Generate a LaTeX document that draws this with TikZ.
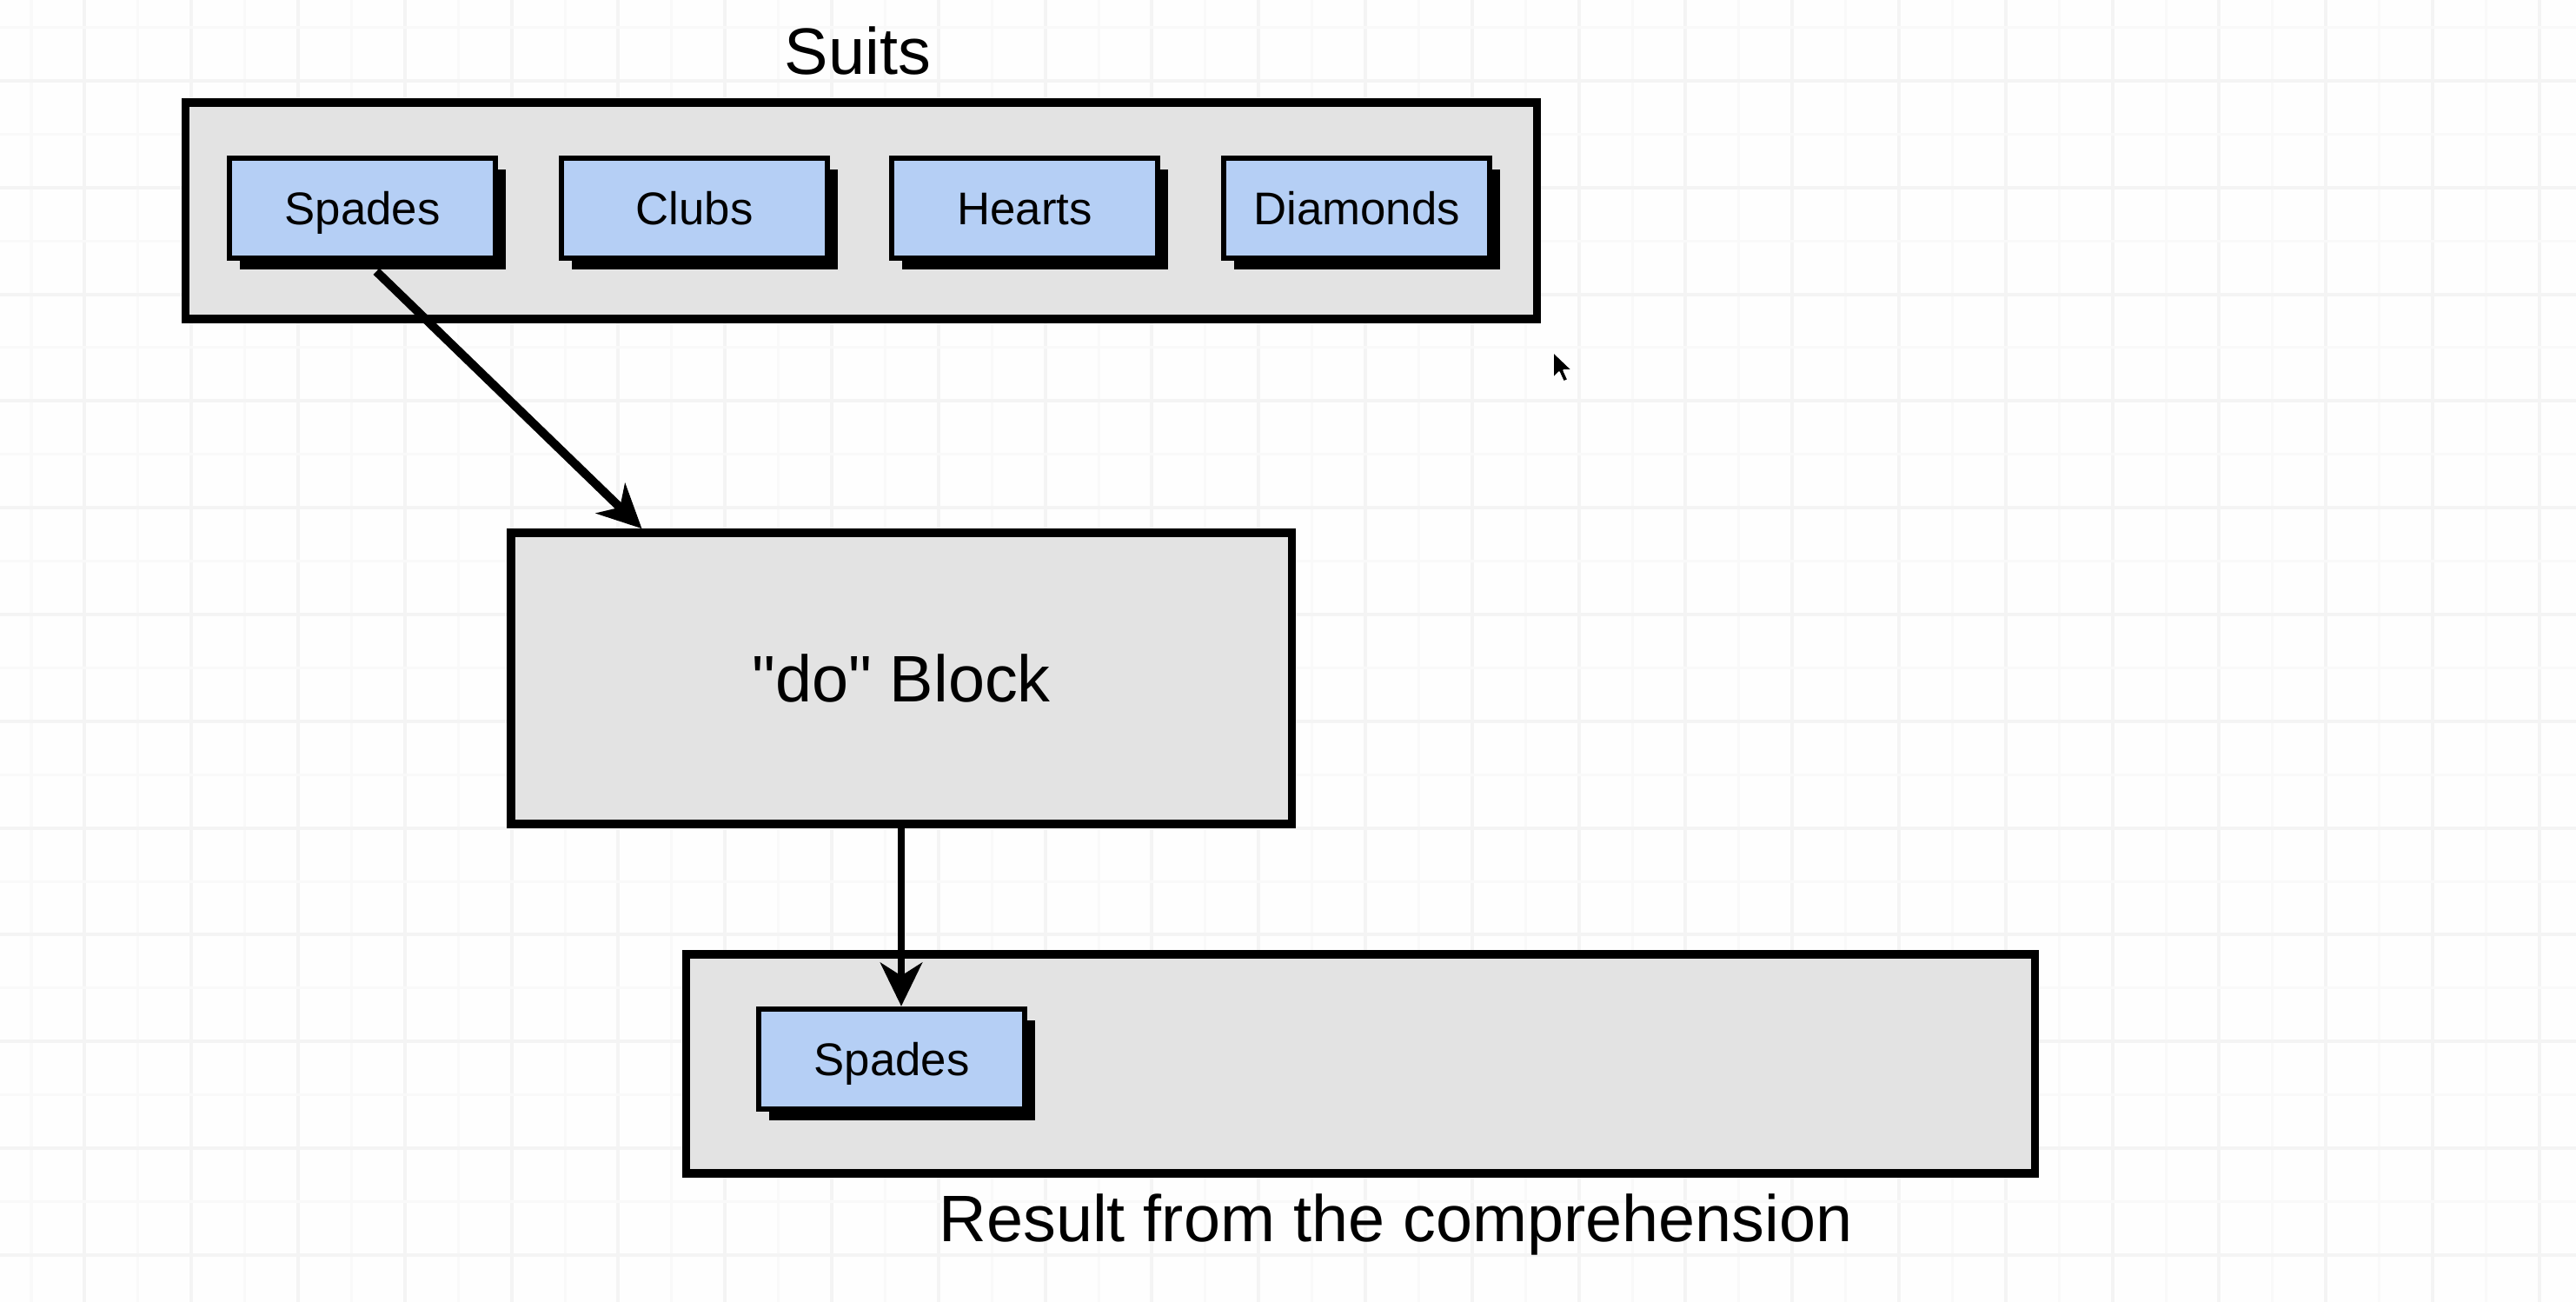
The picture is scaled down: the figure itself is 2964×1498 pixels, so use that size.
\documentclass[tikz,border=0pt]{standalone}
\usepackage{fontspec}
\setmainfont{Liberation Sans}
\newfontfamily\straightquotes{Liberation Sans}[Ligatures=TeXOff]
\usetikzlibrary{arrows.meta,shadows,calc}
\definecolor{bluebox}{RGB}{181,207,245}
\definecolor{graybox}{RGB}{227,227,227}
\definecolor{gridmaj}{RGB}{244,244,244}
\definecolor{gridmin}{RGB}{249,249,249}
\definecolor{bgcol}{RGB}{254,254,254}
\tikzset{
  container/.style={draw=black, line width=0.095cm, fill=graybox, rectangle, inner sep=0pt},
  suit/.style={draw=black, line width=0.065cm, fill=bluebox, rectangle,
    minimum width=3.06cm, minimum height=1.15cm, inner sep=0pt,
    font=\fontsize{15}{18}\selectfont, text height=10.7pt, text depth=0pt,
    drop shadow={shadow xshift=0.12cm, shadow yshift=-0.13cm, fill=black, opacity=1}},
  bigtext/.style={font=\fontsize{21.5}{26}\selectfont, inner sep=0pt},
  conn/.style={line width=0.1cm, -{Stealth[length=0.5cm, width=0.48cm, inset=0.15cm]}},
  gridmajor/.style={draw=gridmaj, line width=0.04cm},
  gridminor/.style={draw=gridmin, line width=0.03cm},
}
\begin{document}
\begin{tikzpicture}[x=0.01cm, y=-0.01cm]
  % background and bounding box
  \fill[bgcol] (0,0) rectangle (2964,1498);
  \useasboundingbox (0,0) rectangle (2964,1498);
  % grid
  \foreach \i in {0,...,47} {
    \pgfmathsetmacro{\gx}{36+61.4*\i}
    \pgfmathtruncatemacro{\odd}{mod(\i,2)}
    \ifnum\odd=1
      \draw[gridmajor] (\gx,0) -- (\gx,1498);
    \else
      \draw[gridminor] (\gx,0) -- (\gx,1498);
    \fi
  }
  \foreach \j in {0,...,23} {
    \pgfmathsetmacro{\gy}{31.6+61.4*\j}
    \pgfmathtruncatemacro{\odd}{mod(\j,2)}
    \ifnum\odd=1
      \draw[gridmajor] (0,\gy) -- (2964,\gy);
    \else
      \draw[gridminor] (0,\gy) -- (2964,\gy);
    \fi
  }

  % Suits group
  \node[bigtext, anchor=base] (suitslbl) at (987,86) {Suits};
  \node[container, minimum width=15.54cm, minimum height=2.49cm] (suits) at (991,242.5) {};
  \node[suit] (sp1) at (417,239.5) {Spades};
  \node[suit] (cl1) at (799,239.5) {Clubs};
  \node[suit] (he1) at (1179,239.5) {Hearts};
  \node[suit] (di1) at (1561,239.5) {Diamonds};

  % do block
  \node[container, minimum width=8.98cm, minimum height=3.35cm,
        font=\straightquotes\fontsize{21.5}{26}\selectfont, text height=15.4pt, text depth=0pt] (doblk) at (1037,780.5) {"do" Block};

  % result
  \node[container, minimum width=15.51cm, minimum height=2.52cm] (result) at (1565.5,1224) {};
  \node[suit] (rs) at (1026,1218.5) {Spades};
  \node[bigtext, anchor=base] (resultlbl) at (1606,1428) {Result from the comprehension};

  % connectors
  \coordinate (a1s) at ($(sp1.south)+(16,12)$);
  \draw[conn] (a1s) -- (doblk.150.5);
  \draw[conn, line width=0.085cm] (doblk.south) -- (doblk.south |- rs.north);

  % mouse cursor
  \coordinate (cur) at (1787,405);
  \filldraw[fill=black, draw=white, line width=0.015cm, line join=round]
    (cur) -- ++(0,30) -- ++(7,-7) -- ++(5,11) -- ++(5,-2) -- ++(-5,-11) -- ++(10,0) -- cycle;
\end{tikzpicture}
\end{document}
